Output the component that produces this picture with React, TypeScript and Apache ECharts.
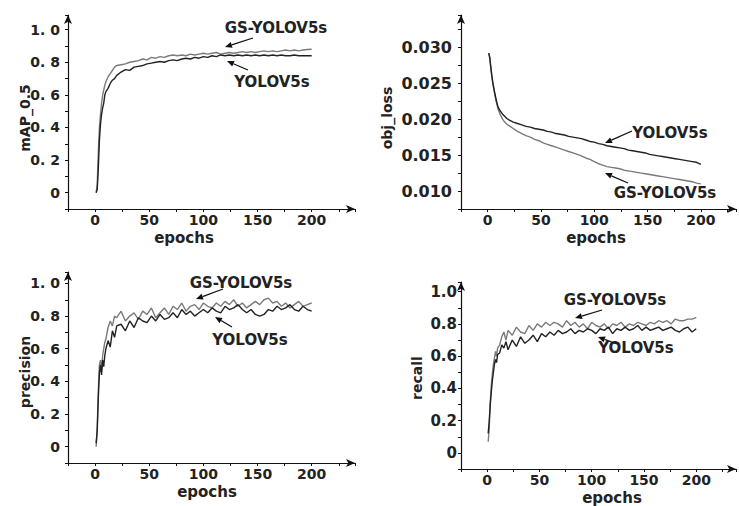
import React, { useEffect, useRef } from "react";
import * as echarts from "echarts";

const epochs = [1,2,3,4,5,6,7,8,9,10,12,14,16,18,20,24,28,32,36,40,44,48,52,56,60,64,68,72,76,80,84,88,92,96,100,104,108,112,116,120,124,128,132,136,140,144,148,152,156,160,164,168,172,176,180,184,188,192,196,200];

const mapGS = [0.0,0.05,0.25,0.4,0.48,0.55,0.6,0.63,0.66,0.68,0.71,0.73,0.75,0.77,0.78,0.785,0.79,0.8,0.805,0.81,0.82,0.815,0.83,0.825,0.835,0.83,0.84,0.845,0.84,0.845,0.84,0.85,0.845,0.85,0.855,0.85,0.855,0.86,0.85,0.855,0.86,0.855,0.86,0.865,0.86,0.865,0.86,0.865,0.87,0.865,0.87,0.865,0.87,0.875,0.87,0.875,0.87,0.875,0.878,0.88];
const mapYOLO = [0.0,0.02,0.15,0.32,0.42,0.48,0.52,0.55,0.6,0.62,0.64,0.67,0.69,0.7,0.72,0.74,0.755,0.75,0.77,0.775,0.78,0.79,0.795,0.8,0.805,0.8,0.81,0.815,0.81,0.82,0.825,0.82,0.83,0.825,0.835,0.83,0.84,0.835,0.845,0.84,0.845,0.84,0.845,0.84,0.845,0.84,0.845,0.84,0.845,0.84,0.845,0.84,0.845,0.84,0.84,0.845,0.84,0.84,0.84,0.84];

const lossGS = [0.0292,0.0285,0.027,0.0258,0.0248,0.024,0.0232,0.0225,0.0219,0.0213,0.0206,0.0200,0.0196,0.0193,0.0191,0.0187,0.0183,0.0180,0.0177,0.0175,0.0172,0.0170,0.0167,0.0165,0.0163,0.0161,0.0159,0.0157,0.0155,0.0153,0.0151,0.0149,0.0146,0.0144,0.0141,0.0138,0.0136,0.0134,0.0133,0.0132,0.0131,0.0129,0.0128,0.0127,0.0126,0.0125,0.0124,0.0123,0.0122,0.0121,0.0120,0.0119,0.0118,0.0117,0.0116,0.0115,0.0114,0.0113,0.0111,0.0110];
const lossYOLO = [0.0292,0.0286,0.0272,0.026,0.025,0.0242,0.0234,0.0227,0.0221,0.0216,0.0211,0.0207,0.0204,0.0201,0.0199,0.0196,0.0194,0.0192,0.0190,0.0189,0.0187,0.0186,0.0185,0.0183,0.0182,0.0180,0.0179,0.0178,0.0176,0.0175,0.0174,0.0173,0.0171,0.0169,0.0168,0.0166,0.0165,0.0163,0.0162,0.0161,0.0160,0.0159,0.0157,0.0156,0.0155,0.0154,0.0153,0.0151,0.0150,0.0149,0.0148,0.0147,0.0146,0.0145,0.0144,0.0143,0.0142,0.0141,0.0140,0.0137];

const precGS = [0.0,0.12,0.35,0.5,0.53,0.47,0.56,0.6,0.64,0.66,0.73,0.77,0.74,0.8,0.79,0.83,0.77,0.8,0.82,0.78,0.83,0.81,0.85,0.79,0.82,0.85,0.81,0.86,0.84,0.88,0.83,0.86,0.87,0.84,0.88,0.86,0.85,0.88,0.86,0.89,0.87,0.9,0.86,0.88,0.85,0.87,0.89,0.87,0.9,0.91,0.88,0.89,0.86,0.88,0.85,0.87,0.89,0.86,0.87,0.88];
const precYOLO = [0.02,0.1,0.3,0.45,0.5,0.44,0.53,0.49,0.56,0.6,0.65,0.61,0.71,0.67,0.74,0.75,0.71,0.77,0.73,0.79,0.77,0.76,0.8,0.77,0.81,0.78,0.79,0.82,0.79,0.84,0.81,0.83,0.8,0.82,0.84,0.82,0.85,0.83,0.82,0.86,0.84,0.85,0.87,0.84,0.82,0.84,0.81,0.8,0.81,0.84,0.83,0.86,0.84,0.85,0.87,0.84,0.83,0.86,0.84,0.83];

const recGS = [0.07,0.15,0.32,0.42,0.49,0.55,0.59,0.63,0.6,0.65,0.67,0.72,0.75,0.7,0.76,0.73,0.78,0.75,0.74,0.79,0.76,0.8,0.78,0.81,0.79,0.81,0.8,0.78,0.82,0.79,0.81,0.78,0.8,0.77,0.81,0.79,0.78,0.8,0.77,0.8,0.79,0.81,0.78,0.8,0.79,0.81,0.8,0.79,0.81,0.8,0.82,0.81,0.82,0.8,0.83,0.82,0.82,0.83,0.83,0.84];
const recYOLO = [0.12,0.2,0.3,0.38,0.45,0.5,0.55,0.58,0.56,0.61,0.62,0.67,0.65,0.69,0.64,0.7,0.66,0.72,0.68,0.7,0.73,0.69,0.74,0.72,0.75,0.73,0.76,0.74,0.75,0.77,0.74,0.76,0.75,0.77,0.76,0.74,0.77,0.76,0.78,0.74,0.77,0.76,0.78,0.76,0.77,0.79,0.76,0.78,0.76,0.77,0.78,0.76,0.77,0.78,0.76,0.75,0.77,0.78,0.75,0.77];

const xTickLabels = [0, 50, 100, 150, 200];
const yTickLabelsFrac = [0, 0.2, 0.4, 0.6, 0.8, 1.0];
const lossTickLabels = [0.010, 0.015, 0.020, 0.025, 0.030];

const FONT = '"DejaVu Sans", sans-serif';
const GS_COLOR = "#7a7a7a";
const YOLO_COLOR = "#222222";

const zip = (xs: number[], ys: number[]) => xs.map((x, i) => [x, ys[i]]);

function arrow(x1: number, y1: number, x2: number, y2: number) {
  const a = Math.atan2(y2 - y1, x2 - x1);
  const L = 7, W = 3;
  const bx = x2 - L * Math.cos(a), by = y2 - L * Math.sin(a);
  return [
    { type: "line", silent: true, shape: { x1, y1, x2: bx, y2: by }, style: { stroke: "#111", lineWidth: 1.3 } },
    { type: "polygon", silent: true, shape: { points: [[x2, y2], [bx + W * Math.sin(a), by - W * Math.cos(a)], [bx - W * Math.sin(a), by + W * Math.cos(a)]] }, style: { fill: "#111" } },
  ];
}

function txt(text: string, x: number, y: number, size: number, rotate = false, weight = "bold") {
  return {
    type: "text",
    x, y,
    rotation: rotate ? Math.PI / 2 : 0,
    style: { text, font: `${weight} ${size}px ${FONT}`, fill: "#222", align: "center", verticalAlign: "middle" },
  };
}

export default function App() {
  const ref = useRef<HTMLDivElement>(null);
  useEffect(() => {
    const chart = echarts.init(ref.current!, undefined, { renderer: "svg" });
    const grids = [
      { left: 68, top: 15, width: 287, height: 194 },
      { left: 461, top: 15, width: 277, height: 194 },
      { left: 68, top: 272, width: 287, height: 191 },
      { left: 461, top: 282, width: 277, height: 187 },
    ];
    const xMax = [240, 233, 240, 238];
    const axisLine = { onZero: false, symbol: ["none", "arrow"], symbolSize: [6, 9], lineStyle: { color: "#111", width: 1.2 } };
    const near = (v: number, t: number, eps: number) => Math.abs(v - t) < eps;
    const xAxis = grids.map((_, i) => ({
      type: "value", gridIndex: i, min: -25, max: xMax[i], interval: 25,
      axisLine, splitLine: { show: false },
      axisTick: { show: true, length: 3, lineStyle: { color: "#111" } },
      axisLabel: {
        margin: 4, color: "#222", fontSize: 14, fontWeight: "bold", fontFamily: FONT,
        formatter: (v: number) => { const m = xTickLabels.find((t) => near(v, t, 1e-6)); return m === undefined ? "" : String(m); },
      },
    }));
    const fracFmt = (spaced: boolean) => (v: number) => {
      const m = yTickLabelsFrac.find((t) => near(v, t, 1e-6));
      if (m === undefined) return "";
      if (m === 0) return "0";
      const s = m.toFixed(1);
      return spaced ? s.replace(".", ". ") : s;
    };
    const yCfg = [
      { min: -0.1, max: 1.09, interval: 0.1, fmt: fracFmt(true), margin: 8, size: 14 },
      { min: 0.0075, max: 0.0345, interval: 0.0025, fmt: (v: number) => { const m = lossTickLabels.find((t) => near(v, t, 1e-7)); return m === undefined ? "" : m.toFixed(3); }, margin: 9, size: 16 },
      { min: -0.1, max: 1.07, interval: 0.1, fmt: fracFmt(true), margin: 8, size: 14 },
      { min: -0.1, max: 1.06, interval: 0.1, fmt: fracFmt(false), margin: 4, size: 15 },
    ];
    const yAxis = yCfg.map((c, i) => ({
      type: "value", gridIndex: i, min: c.min, max: c.max, interval: c.interval,
      axisLine, splitLine: { show: false },
      axisTick: { show: true, length: 3, lineStyle: { color: "#111" } },
      axisLabel: { margin: c.margin, color: "#222", fontSize: c.size, fontWeight: "bold", fontFamily: FONT, formatter: c.fmt },
    }));
    const pairs = [[mapGS, mapYOLO], [lossGS, lossYOLO], [precGS, precYOLO], [recGS, recYOLO]];
    const series: any[] = [];
    pairs.forEach(([gs, yo], i) => {
      series.push({ type: "line", name: "GS-YOLOV5s", xAxisIndex: i, yAxisIndex: i, data: zip(epochs, gs), showSymbol: false, lineStyle: { color: GS_COLOR, width: 1.4 }, itemStyle: { color: GS_COLOR } });
      series.push({ type: "line", name: "YOLOV5s", xAxisIndex: i, yAxisIndex: i, data: zip(epochs, yo), showSymbol: false, lineStyle: { color: YOLO_COLOR, width: 1.4 }, itemStyle: { color: YOLO_COLOR } });
    });
    const graphic: any[] = [
      txt("GS-YOLOV5s", 276, 28, 15), ...arrow(253, 38, 225, 47),
      txt("YOLOV5s", 272, 82, 15), ...arrow(248, 70, 227, 61),
      txt("YOLOV5s", 670, 133, 15), ...arrow(632, 131, 605, 143),
      txt("GS-YOLOV5s", 665, 193, 15), ...arrow(628, 183, 605, 173),
      txt("GS-YOLOV5s", 241, 283, 15), ...arrow(223, 289, 196, 299),
      txt("YOLOV5s", 250, 340, 15), ...arrow(232, 327, 215, 317),
      txt("GS-YOLOV5s", 615, 300, 15), ...arrow(602, 310, 575, 318),
      txt("YOLOV5s", 636, 348, 15), ...arrow(617, 344, 598, 337),
      txt("epochs", 184, 238, 15), txt("mAP_0.5", 25, 118, 14, true),
      txt("epochs", 596, 238, 15), txt("obj_loss", 387, 118, 14, true),
      txt("epochs", 207, 492, 15), txt("precision", 25, 372, 14, true),
      txt("epochs", 612, 498, 15), txt("recall", 417, 378, 14, true),
    ];
    chart.setOption({
      animation: false,
      backgroundColor: "#fff",
      grid: grids,
      xAxis, yAxis, series, graphic,
    });
    return () => chart.dispose();
  }, []);
  return <div ref={ref} style={{ position: "fixed", left: 0, top: 0, width: 739, height: 506 }} />;
}
